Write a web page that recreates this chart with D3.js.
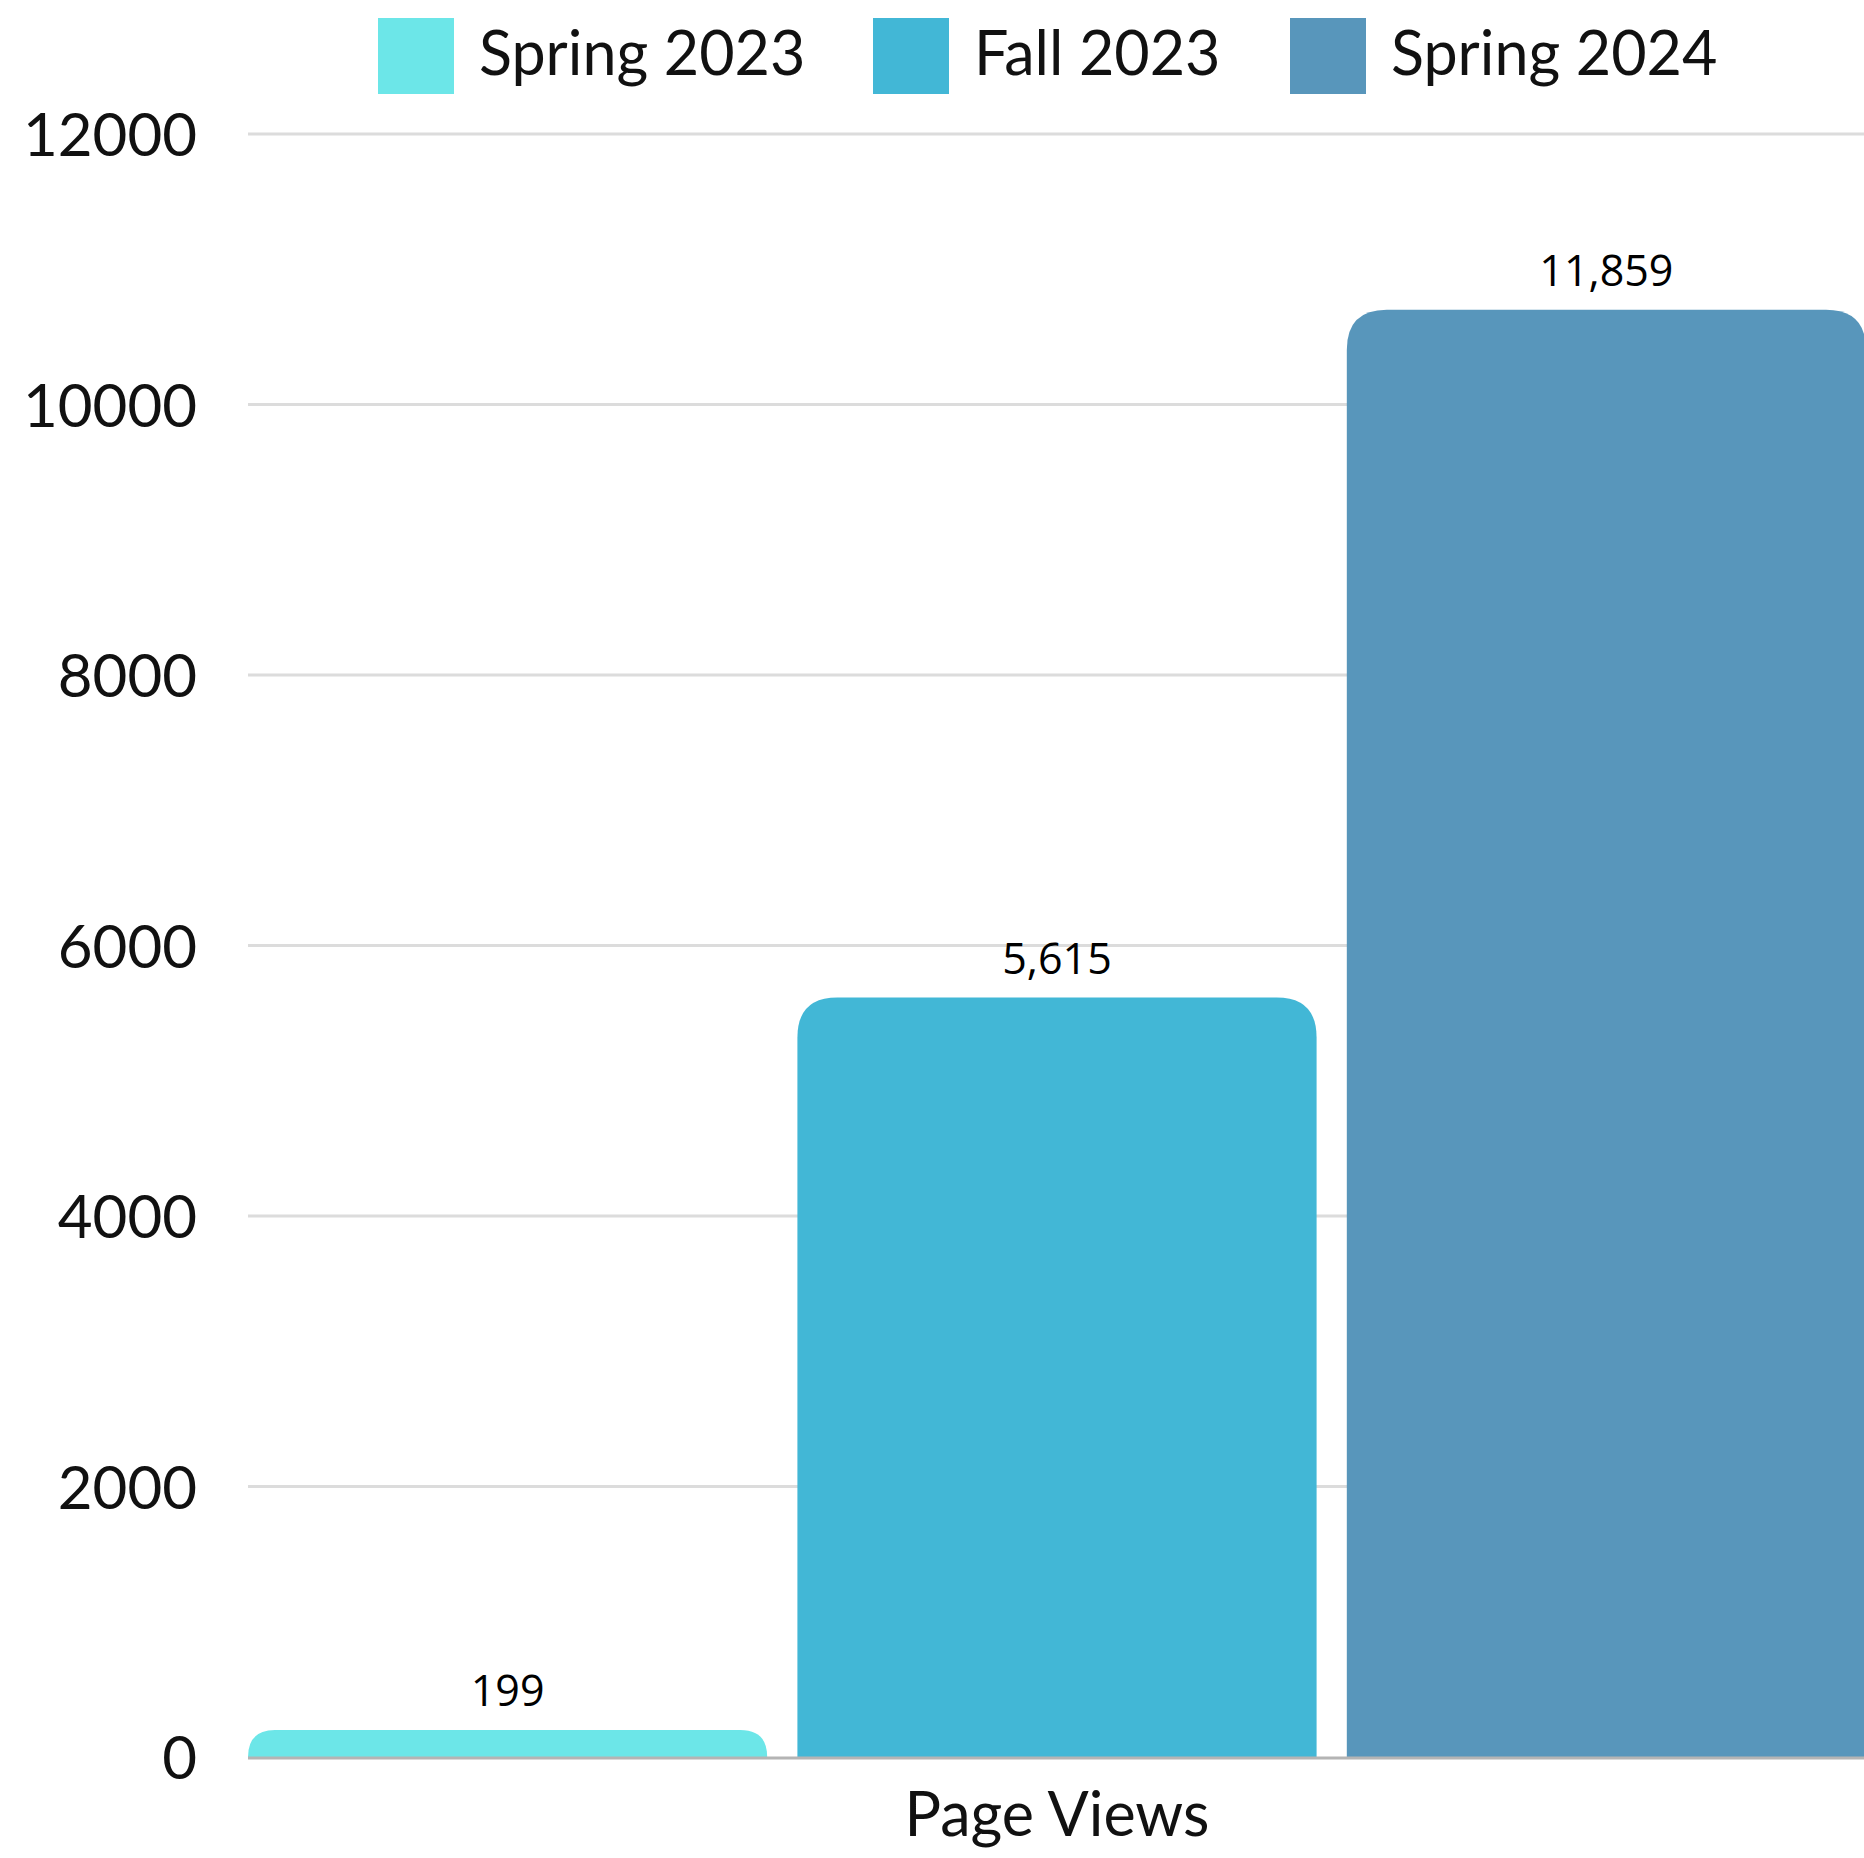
<!DOCTYPE html>
<html><head><meta charset="utf-8">
<script src="https://cdn.jsdelivr.net/npm/d3@7"></script>
<style>html,body{margin:0;padding:0;background:#fff;overflow:hidden}</style>
</head><body>
<svg id="chart" width="1864" height="1858"></svg>
<script>
const categories = ["Page Views"];
const seriesNames = ["Spring 2023", "Fall 2023", "Spring 2024"];
const seriesValues = [199, 5615, 10700];
const valueLabels = ["199", "5,615", "11,859"];
const seriesColors = ["#6ce6e8", "#42b7d6", "#5896bb"];
const yTicks = [0, 2000, 4000, 6000, 8000, 10000, 12000];

(function () {
const svg = d3.select("#chart");
const plotLeft = 248, plotRight = 1866, plotTop = 134, plotBottom = 1757;

const y = d3.scaleLinear().domain([0, 12000]).range([plotBottom, plotTop]);
const x = d3.scaleBand().domain(seriesNames).range([plotLeft, plotRight]).paddingInner(0.055).paddingOuter(0);

// gridlines
svg.append("g").selectAll("line").data(yTicks.filter(d => d > 0)).join("line")
  .attr("x1", plotLeft).attr("x2", 1864)
  .attr("y1", d => y(d)).attr("y2", d => y(d))
  .attr("stroke", "#dcdcdc").attr("stroke-width", 3);

// y axis labels
const yAxis = d3.axisLeft(y).tickValues(yTicks).tickSize(0).tickPadding(0).tickFormat(d => String(d));
const ya = svg.append("g").attr("transform", "translate(197,0)").call(yAxis);
ya.select(".domain").remove();
ya.selectAll("text").attr("font-family", "Lato").attr("font-size", 60).attr("fill", "#111").attr("dy", "0.36em");

// bars
function barPath(x0, w, y0, y1, r) {
  const h = y1 - y0;
  const rr = Math.min(r, h, w / 2);
  return `M${x0},${y1} L${x0},${y0 + rr} Q${x0},${y0} ${x0 + rr},${y0} L${x0 + w - rr},${y0} Q${x0 + w},${y0} ${x0 + w},${y0 + rr} L${x0 + w},${y1} Z`;
}
const data = seriesNames.map((s, i) => ({ s, v: seriesValues[i], label: valueLabels[i], c: seriesColors[i] }));
svg.append("g").selectAll("path").data(data).join("path")
  .attr("d", d => barPath(x(d.s), x.bandwidth(), y(d.v), y(0), 40))
  .attr("fill", d => d.c);

// zero axis line
svg.append("line").attr("x1", plotLeft).attr("x2", 1864).attr("y1", y(0) + 1).attr("y2", y(0) + 1)
  .attr("stroke", "#b4b4b4").attr("stroke-width", 3);

// value labels
svg.append("g").selectAll("text").data(data).join("text")
  .attr("x", d => x(d.s) + x.bandwidth() / 2)
  .attr("y", d => y(d.v) - 24)
  .attr("text-anchor", "middle")
  .attr("font-family", "Open Sans").attr("font-size", 43).attr("fill", "#000")
  .text(d => d.label);

// x label
const xCat = d3.scaleBand().domain(categories).range([plotLeft, plotRight]);
svg.append("g").selectAll("text").data(categories).join("text")
  .attr("x", d => xCat(d) + xCat.bandwidth() / 2).attr("y", 1836)
  .attr("text-anchor", "middle")
  .attr("font-family", "Lato").attr("font-size", 61).attr("fill", "#111")
  .text(d => d);

// legend
const legendX = [378, 873, 1290];
const lg = svg.append("g").selectAll("g").data(data).join("g")
  .attr("transform", (d, i) => `translate(${legendX[i]},18)`);
lg.append("rect").attr("width", 76).attr("height", 76).attr("fill", d => d.c);
lg.append("text").attr("x", 101).attr("y", 57)
  .attr("font-family", "Lato").attr("font-size", 61).attr("fill", "#111")
  .text(d => d.s);
})();
</script>
</body></html>
